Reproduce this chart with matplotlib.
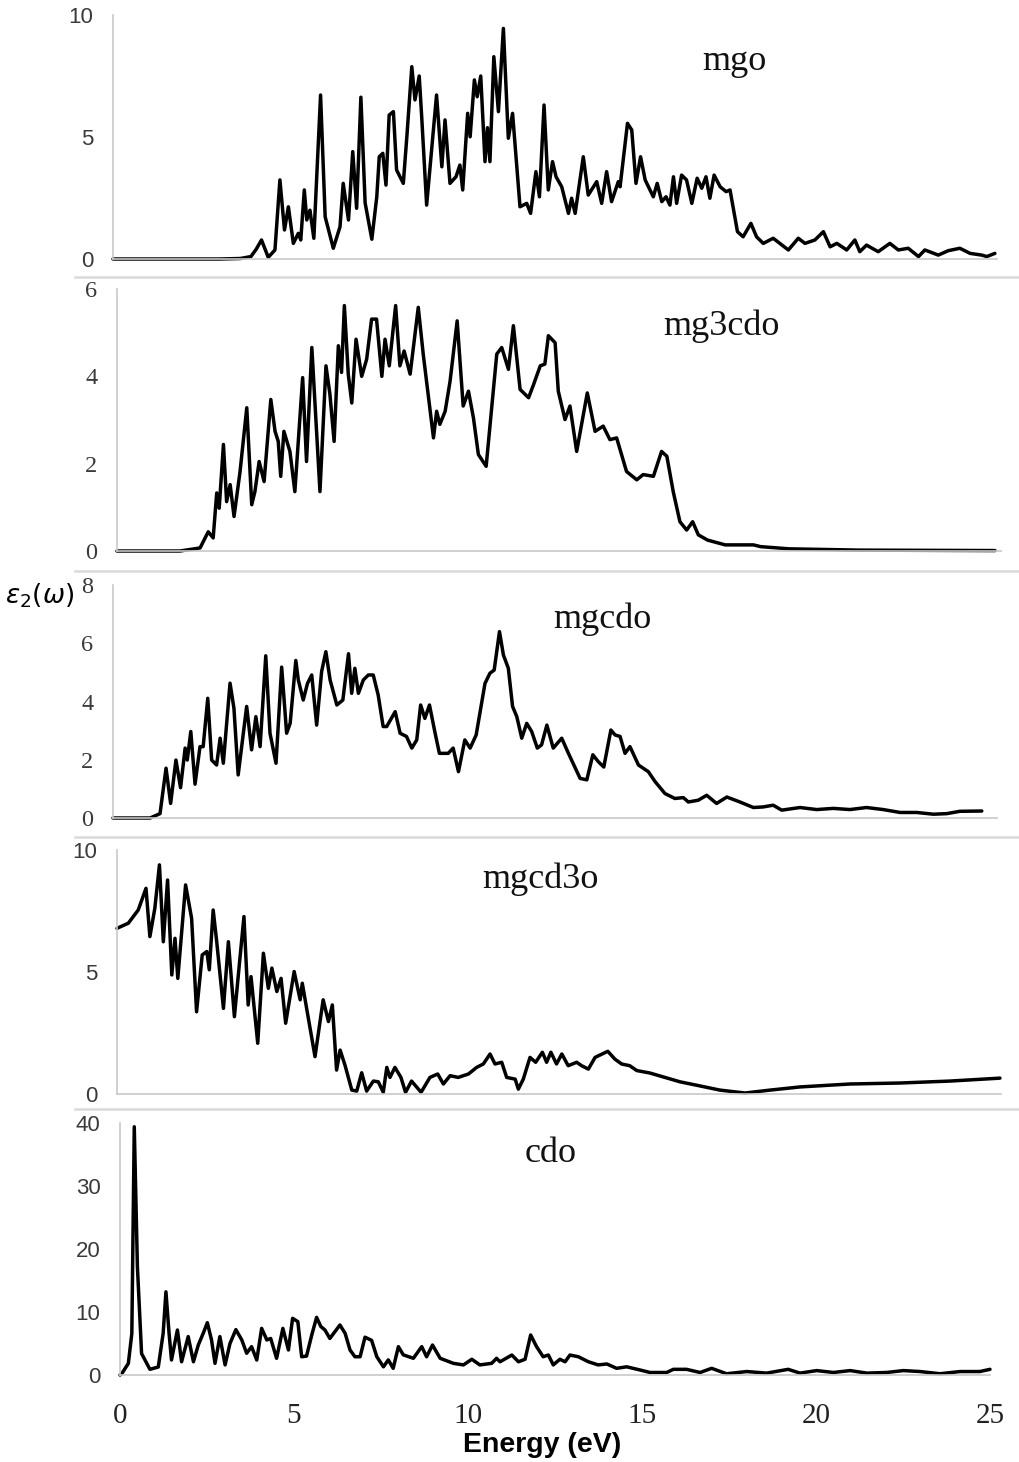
import matplotlib
matplotlib.use("Agg")
import matplotlib.pyplot as plt
from matplotlib.lines import Line2D

# ---------------- data (energy in eV, epsilon_2) ----------------
mgo_e = [0, 3.0, 3.6, 3.9, 4.05, 4.2, 4.39, 4.58, 4.72, 4.85, 4.96, 5.10, 5.24, 5.31, 5.41, 5.48, 5.57, 5.68,
         5.87, 6.0, 6.23, 6.42, 6.51, 6.66, 6.78, 6.89, 7.01, 7.13, 7.32, 7.46, 7.53, 7.63, 7.72, 7.81, 7.93,
         8.02, 8.21, 8.31, 8.45, 8.54, 8.66, 8.73, 8.87, 9.01, 9.15, 9.3, 9.39, 9.53, 9.7, 9.81, 9.89, 10.03,
         10.1, 10.22, 10.3, 10.4, 10.52, 10.59, 10.66, 10.77, 10.9, 11.04, 11.18, 11.3, 11.51, 11.7, 11.81,
         11.96, 12.06, 12.19, 12.31, 12.43, 12.53, 12.69, 12.88, 12.97, 13.07, 13.3, 13.44, 13.68, 13.82,
         13.96, 14.1, 14.29, 14.34, 14.55, 14.67, 14.79, 14.92, 15.05, 15.28, 15.39, 15.52, 15.64, 15.75,
         15.85, 15.94, 16.08, 16.22, 16.37, 16.52, 16.65, 16.77, 16.88, 17.0, 17.17, 17.34, 17.45, 17.66,
         17.82, 18.04, 18.2, 18.39, 18.67, 18.86, 19.1, 19.38, 19.57, 19.85, 20.09, 20.28, 20.47, 20.75,
         20.98, 21.12, 21.31, 21.64, 21.97, 22.21, 22.49, 22.78, 22.96, 23.34, 23.62, 23.95, 24.24, 24.57,
         24.71, 24.94]
mgo_v = [0, 0, 0.02, 0.1, 0.4, 0.78, 0.07, 0.37, 3.24, 1.19, 2.14, 0.64, 1.05, 0.78, 2.83, 1.6, 2.0, 0.85,
         6.72, 1.73, 0.44, 1.32, 3.1, 1.6, 4.4, 2.08, 6.63, 2.3, 0.81, 2.55, 4.19, 4.33, 3.03, 5.9, 6.04,
         3.65, 3.1, 5.01, 7.88, 6.52, 7.5, 5.83, 2.21, 4.47, 6.72, 3.78, 5.7, 3.1, 3.37, 3.85, 2.83, 5.97,
         5.01, 7.34, 6.65, 7.5, 3.99, 5.38, 3.99, 8.29, 6.04, 9.45, 4.95, 5.97, 2.14, 2.28, 1.87,
         3.58, 2.55, 6.31, 2.83, 3.99, 3.37, 2.96, 1.87, 2.49, 1.87, 4.19, 2.62, 3.17, 2.28,
         3.58, 2.35, 3.17, 2.96, 5.56, 5.29, 3.1, 4.19, 3.24, 2.55, 3.1, 2.35, 2.55, 2.21,
         3.37, 2.28, 3.44, 3.24, 2.28, 3.31, 2.9, 3.37, 2.49, 3.44, 2.96, 2.76, 2.83, 1.12,
         0.91, 1.46, 0.91, 0.64, 0.85, 0.64, 0.37, 0.85, 0.64, 0.78, 1.12, 0.5, 0.64, 0.37,
         0.78, 0.3, 0.57, 0.3, 0.64, 0.37, 0.44, 0.1, 0.37, 0.16, 0.34, 0.44, 0.23, 0.16,
         0.1, 0.23]

mg3cdo_e = [0, 1.78, 2.35, 2.58, 2.72, 2.82, 2.89, 3.01, 3.1, 3.2, 3.31, 3.48, 3.67, 3.81, 3.9, 4.02, 4.16,
            4.35, 4.47, 4.56, 4.63, 4.72, 4.89, 5.03, 5.25, 5.36, 5.51, 5.74, 5.91, 6.02, 6.14, 6.26, 6.35,
            6.43, 6.54, 6.64, 6.76, 6.92, 7.06, 7.2, 7.34, 7.49, 7.58, 7.7, 7.88, 8.0, 8.12, 8.29, 8.52,
            8.66, 8.95, 9.04, 9.13, 9.28, 9.42, 9.62, 9.79, 9.94, 10.08, 10.22, 10.44, 10.74, 10.88, 11.07,
            11.21, 11.4, 11.64, 11.78, 11.97, 12.1, 12.2, 12.39, 12.48, 12.67, 12.81, 13.0, 13.3, 13.52,
            13.75, 13.94, 14.13, 14.41, 14.7, 14.88, 15.17, 15.4, 15.55, 15.73, 15.92, 16.11, 16.28, 16.44,
            16.7, 17.2, 18.0, 18.2, 19.0, 21.0, 24.83]
mg3cdo_v = [0, 0, 0.07, 0.44, 0.3, 1.33, 0.98, 2.44, 1.13, 1.52, 0.79, 1.82, 3.28, 1.06, 1.36, 2.05, 1.59,
            3.47, 2.74, 2.51, 1.71, 2.74, 2.28, 1.36, 3.97, 2.05, 4.66, 1.36, 4.24, 3.6, 2.51, 4.7, 4.09,
            5.62, 4.05, 3.39, 4.85, 4.0, 4.39, 5.31, 5.31, 4.0, 4.85, 4.24, 5.62, 4.24, 4.58, 4.05, 5.58,
            4.51, 2.59, 3.2, 2.9, 3.2, 3.89, 5.27, 3.32, 3.66, 3.05, 2.21, 1.94, 4.51, 4.66, 4.16,
            5.16, 3.7, 3.51, 3.81, 4.24, 4.28, 4.93, 4.77, 3.66, 3.01, 3.32, 2.28, 3.62, 2.74,
            2.86, 2.55, 2.59, 1.82, 1.63, 1.75, 1.71, 2.28, 2.17, 1.36, 0.67, 0.48, 0.67, 0.37,
            0.25, 0.14, 0.14, 0.1, 0.05, 0.02, 0.01]

mgcdo_e = [0, 1.05, 1.33, 1.5, 1.63, 1.78, 1.91, 2.04, 2.1, 2.2, 2.32, 2.46, 2.55, 2.68, 2.79, 2.93, 3.03,
           3.12, 3.31, 3.42, 3.54, 3.78, 3.92, 4.04, 4.16, 4.32, 4.44, 4.61, 4.77, 4.91, 5.01, 5.17, 5.24,
           5.38, 5.5, 5.62, 5.76, 5.9, 6.02, 6.14, 6.33, 6.5, 6.66, 6.75, 6.84, 6.94, 7.08, 7.22, 7.36,
           7.5, 7.64, 7.74, 7.98, 8.12, 8.3, 8.45, 8.59, 8.7, 8.82, 8.95, 9.11, 9.23, 9.48, 9.62, 9.77,
           9.95, 10.1, 10.27, 10.52, 10.66, 10.78, 10.93, 11.04, 11.18, 11.3, 11.42, 11.56, 11.7, 11.84,
           12.0, 12.12, 12.27, 12.45, 12.69, 12.88, 13.21, 13.4, 13.57, 13.72, 13.88, 14.08, 14.2, 14.34,
           14.48, 14.62, 14.86, 15.14, 15.33, 15.61, 15.89, 16.13, 16.27, 16.55, 16.79, 17.07, 17.36,
           17.73, 18.11, 18.39, 18.67, 18.91, 19.43, 19.9, 20.37, 20.84, 21.31, 21.78, 22.26, 22.73,
           23.2, 23.58, 23.95, 24.57]
mgcdo_v = [0, 0, 0.15, 1.71, 0.5, 1.99, 1.04, 2.4, 1.99, 2.97, 1.16, 2.45, 2.45, 4.11, 1.99, 1.82, 2.74,
           1.88, 4.63, 3.77, 1.48, 3.83, 2.34, 3.48, 2.45, 5.57, 2.91, 1.88, 5.18, 2.91, 3.25, 5.41, 4.74,
           4.05, 4.62, 4.91, 3.19, 5.03, 5.71, 4.74, 3.88, 4.05, 5.64, 4.28, 5.14, 4.28, 4.74, 4.91, 4.91,
           4.22, 3.14, 3.14, 3.65, 2.91, 2.8, 2.4, 2.68, 3.88, 3.42, 3.88, 2.91, 2.22, 2.22, 2.4, 1.59,
           2.68, 2.4, 2.85, 4.62, 4.97, 5.08, 6.4, 5.6, 5.14, 3.83, 3.48, 2.74, 3.25, 2.97,
           2.4, 2.51, 3.19, 2.4, 2.74, 2.22, 1.36, 1.31, 2.17, 1.94, 1.75, 3.02, 2.85, 2.8,
           2.22, 2.45, 1.82, 1.59, 1.25, 0.84, 0.67, 0.7, 0.55, 0.61, 0.78, 0.5, 0.72,
           0.55, 0.36, 0.38, 0.44, 0.27, 0.36, 0.29, 0.33, 0.29, 0.36, 0.29, 0.19, 0.19,
           0.13, 0.15, 0.23, 0.24]

mgcd3o_e = [0, 0.32, 0.6, 0.82, 0.93, 1.07, 1.2, 1.31, 1.43, 1.55, 1.64, 1.72, 1.94, 2.11, 2.25, 2.41, 2.54,
            2.61, 2.72, 2.82, 3.01, 3.15, 3.32, 3.45, 3.59, 3.71, 3.79, 3.98, 4.14, 4.28, 4.38, 4.52, 4.64,
            4.77, 5.01, 5.18, 5.24, 5.37, 5.6, 5.83, 5.98, 6.09, 6.21, 6.31, 6.45, 6.64, 6.78, 6.92, 7.06,
            7.25, 7.39, 7.53, 7.63, 7.72, 7.86, 8.03, 8.16, 8.33, 8.6, 8.85, 9.07, 9.23, 9.42, 9.65, 9.94,
            10.17, 10.36, 10.55, 10.69, 10.88, 11.02, 11.26, 11.35, 11.49, 11.68, 11.84, 12.03, 12.15,
            12.27, 12.43, 12.58, 12.76, 13.0, 13.14, 13.33, 13.52, 13.88, 14.08, 14.27, 14.5, 14.7,
            15.07, 15.92, 16.49, 17.05, 17.76, 18.47, 19.32, 20.73, 22.14, 23.56, 24.97]
mgcd3o_v = [6.79, 7.0, 7.54, 8.43, 6.45, 7.61, 9.39, 6.24, 8.77, 4.88, 6.38, 4.74, 8.57, 7.2, 3.37, 5.7, 5.84,
            5.09, 7.54, 6.24, 3.51, 6.24, 3.17, 5.16, 7.27, 3.65, 4.81, 2.08, 5.77, 4.33, 5.16, 4.2, 4.74,
            2.9, 5.02, 3.86, 4.54, 3.45, 1.53, 3.86, 2.97, 3.65, 0.98, 1.8, 1.17, 0.16, 0.12, 0.87, 0.12,
            0.53, 0.5, 0.07, 1.09, 0.68, 1.09, 0.68, 0.07, 0.53, 0.07, 0.68, 0.82, 0.41, 0.75, 0.68, 0.82,
            1.09, 1.23, 1.64, 1.23, 1.3, 0.68, 0.61, 0.2, 0.61, 1.5, 1.3, 1.71, 1.3,
            1.71, 1.23, 1.64, 1.16, 1.3, 1.16, 1.02, 1.5, 1.75, 1.43, 1.23, 1.16, 0.96,
            0.86, 0.5, 0.33, 0.16, 0.04, 0.16, 0.29, 0.41, 0.45, 0.53, 0.65]

cdo_e = [0, 0.05, 0.24, 0.34, 0.41, 0.5, 0.62, 0.86, 1.1, 1.24, 1.32, 1.41, 1.48, 1.65, 1.77, 1.96, 2.11,
         2.25, 2.39, 2.51, 2.63, 2.73, 2.87, 3.02, 3.16, 3.33, 3.5, 3.64, 3.78, 3.93, 4.07, 4.22, 4.33, 4.5,
         4.68, 4.84, 4.96, 5.11, 5.22, 5.36, 5.51, 5.65, 5.77, 5.89, 6.03, 6.32, 6.47, 6.61, 6.75, 6.9,
         7.04, 7.23, 7.38, 7.57, 7.71, 7.85, 8.0, 8.14, 8.43, 8.67, 8.81, 8.98, 9.2, 9.58, 9.87, 10.11,
         10.34, 10.68, 10.82, 10.92, 11.26, 11.45, 11.64, 11.8, 11.97, 12.16, 12.31, 12.45, 12.64, 12.79,
         12.93, 13.17, 13.46, 13.74, 13.99, 14.27, 14.56, 14.94, 15.23, 15.71, 15.9, 16.28, 16.67, 17.0,
         17.43, 18.01, 18.58, 19.2, 19.54, 20.02, 20.5, 20.98, 21.46, 22.03, 22.51, 22.99, 23.56, 24.14,
         24.71, 25.0]
cdo_v = [0, 0.2, 1.85, 6.6, 39.4, 17.2, 3.4, 0.9, 1.27, 6.6, 13.2, 6.6, 2.38, 7.14, 2.1, 6.1, 2.1,
         4.76, 6.6, 8.3, 5.56, 1.85, 6.1, 1.6, 5.0, 7.2, 5.56, 3.45, 4.5, 2.38, 7.4, 5.56, 5.8, 2.65,
         7.4, 3.97, 9.0, 8.47, 2.9, 3.0, 6.35, 9.15, 7.7, 7.14, 5.8, 7.94, 6.6, 3.97, 2.9, 2.9,
         6.0, 5.5, 2.9, 1.3, 2.4, 1.06, 4.5, 3.2, 2.65, 4.5, 2.9, 4.76, 2.65, 1.85, 1.6, 2.5,
         1.6, 1.85, 2.65, 2.1, 3.17, 2.1, 2.5, 6.35, 4.5, 2.9, 3.17, 1.6, 2.5, 2.1,
         3.17, 2.9, 2.1, 1.6, 1.75, 1.06, 1.3, 0.8, 0.4, 0.4, 0.9, 0.9, 0.4, 1.06,
         0.2, 0.55, 0.3, 0.9, 0.3, 0.7, 0.4, 0.7, 0.3, 0.4, 0.7, 0.55, 0.2, 0.55,
         0.55, 0.9]

labels = ["mgo", "mg3cdo", "mgcdo", "mgcd3o", "cdo"]
yticks = [[0, 5, 10], [0, 2, 4, 6], [0, 2, 4, 6, 8], [0, 5, 10], [0, 10, 20, 30, 40]]
xticks = [0, 5, 10, 15, 20, 25]

# ---------------- layout ----------------
W, H = 1020, 1462
fig = plt.figure(figsize=(W / 100, H / 100), dpi=100)
fig.patch.set_facecolor("white")

def rect(l, r, t, b):
    return [l / W, 1 - b / H, (r - l) / W, (b - t) / H]

panels = [
    dict(e=mgo_e, v=mgo_v, box=(113, 997, 15, 259), ymax=10, tfont="Liberation Sans", tsize=16, lab=(734, 70)),
    dict(e=mg3cdo_e, v=mg3cdo_v, box=(117, 1001, 289, 551), ymax=6, tfont="Liberation Serif", tsize=17.5, lab=(721, 335)),
    dict(e=mgcdo_e, v=mgcdo_v, box=(113, 997, 585, 818), ymax=8, tfont="Liberation Serif", tsize=17.5, lab=(602, 628)),
    dict(e=mgcd3o_e, v=mgcd3o_v, box=(117, 1001, 850, 1094), ymax=10, tfont="Liberation Sans", tsize=16, lab=(540, 888)),
    dict(e=cdo_e, v=cdo_v, box=(120, 990, 1123, 1375), ymax=40, tfont="Liberation Sans", tsize=16, lab=(551, 1162)),
]

for i, p in enumerate(panels):
    l, r, t, b = p["box"]
    ax = fig.add_axes(rect(l, r, t, b))
    ax.plot(p["e"], p["v"], color="black", lw=2.5, clip_on=False,
            solid_joinstyle="round", solid_capstyle="round")
    ax.set_xlim(0, 25)
    ax.set_ylim(0, p["ymax"])
    ax.set_yticks(yticks[i])
    for s in ["top", "right"]:
        ax.spines[s].set_visible(False)
    for s in ["left", "bottom"]:
        ax.spines[s].set_color("#c8c8c8")
        ax.spines[s].set_linewidth(1.2)
    ax.tick_params(axis="y", length=0, pad=14, labelsize=p["tsize"],
                   labelfontfamily=p["tfont"], labelcolor="#3a3a3a")
    if i == 4:
        ax.set_xticks(xticks)
        ax.tick_params(axis="x", length=0, pad=20, labelsize=21,
                       labelfontfamily="Liberation Serif", labelcolor="#222222")
    else:
        ax.set_xticks([])
    ax.patch.set_alpha(0)
    fig.text(p["lab"][0] / W, 1 - p["lab"][1] / H, labels[i], ha="center", va="baseline",
             fontfamily="Liberation Serif", fontsize=26, color="#111111")

# separators between panels
for y in [277, 571, 837, 1109]:
    fig.add_artist(Line2D([75 / W, 1.0], [1 - y / H, 1 - y / H], color="#d9d9d9", lw=1.8))

fig.text(542 / W, 1 - 1452 / H, "Energy (eV)", ha="center", va="baseline",
         fontfamily="Liberation Sans", fontweight="bold", fontsize=20.5, color="black")
fig.text(40 / W, 1 - 596 / H, r"$\epsilon_2(\omega)$", ha="center", va="center", fontsize=19, color="black")

fig.savefig("out.png", dpi=100, facecolor="white")
